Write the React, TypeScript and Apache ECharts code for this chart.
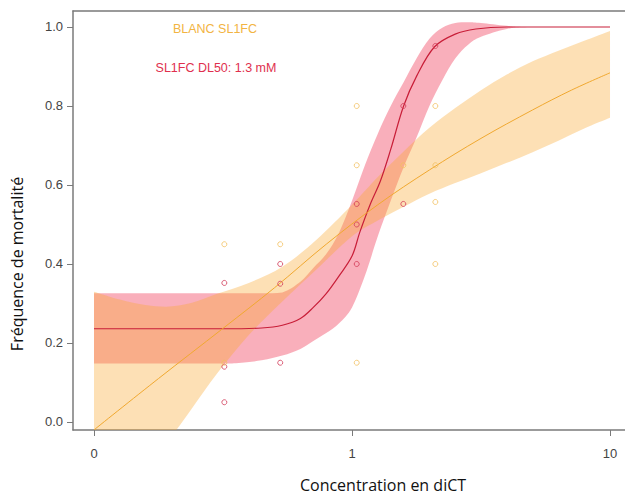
import React, { useEffect, useRef } from "react";
import * as echarts from "echarts";

// Axis ticks (x axis: log10 of concentration, the "0" dose drawn at 0.1)
const xTickPositions = [-1, 0, 1];
const xTickLabels = ["0", "1", "10"];
const yTickValues = [0, 0.2, 0.4, 0.6, 0.8, 1.0];

// Observed points (concentration, mortality)
const blancConc = [0.32, 0.32, 0.527, 1.043, 1.043, 1.043, 1.581, 2.104, 2.104, 2.104, 2.104];
const blancMort = [0.45, 0.15, 0.45, 0.8, 0.65, 0.15, 0.65, 0.8, 0.65, 0.557, 0.4];
const sl1fcConc = [0.32, 0.32, 0.32, 0.527, 0.527, 0.527, 1.043, 1.043, 1.043, 1.581, 1.581, 2.104];
const sl1fcMort = [0.352, 0.14, 0.05, 0.4, 0.35, 0.15, 0.552, 0.5, 0.4, 0.8, 0.552, 0.952];

// SL1FC fitted curve (log10 conc, mortality)
const sl1fcCurveLogX = [-1, -0.5, -0.35, -0.27, -0.2, -0.15, -0.1, -0.05, 0, 0.03, 0.07, 0.11, 0.15, 0.2, 0.25, 0.32, 0.4, 0.48, 0.6, 1];
const sl1fcCurveY = [0.236, 0.236, 0.238, 0.245, 0.262, 0.29, 0.325, 0.37, 0.42, 0.48, 0.55, 0.61, 0.69, 0.8, 0.875, 0.95, 0.982, 0.995, 1.0, 1.0];

// SL1FC confidence band
const sl1fcBandLogX = [-1, -0.6, -0.45, -0.35, -0.27, -0.2, -0.15, -0.1, -0.05, 0, 0.05, 0.1, 0.15, 0.2, 0.25, 0.3, 0.35, 0.4, 0.45, 0.5, 0.6, 0.7, 1];
const sl1fcBandUpper = [0.326, 0.326, 0.326, 0.326, 0.328, 0.355, 0.39, 0.425, 0.48, 0.56, 0.65, 0.73, 0.8, 0.86, 0.92, 0.97, 0.998, 1.01, 1.012, 1.01, 1.003, 1.0, 1.0];
const sl1fcBandLower = [0.148, 0.148, 0.149, 0.156, 0.168, 0.185, 0.205, 0.225, 0.25, 0.29, 0.37, 0.47, 0.56, 0.645, 0.72, 0.8, 0.865, 0.92, 0.955, 0.975, 0.995, 1.0, 1.0];

// BLANC fitted curve
const blancCurveLogX = [-1, -0.75, -0.5, -0.3, -0.1, 0.1, 0.3, 0.5, 0.7, 0.85, 1.0];
const blancCurveY = [-0.02, 0.11, 0.237, 0.34, 0.45, 0.55, 0.638, 0.718, 0.79, 0.84, 0.884];

// BLANC confidence band
const blancBandLogX = [-1, -0.9, -0.8, -0.72, -0.62, -0.52, -0.4, -0.27, -0.14, 0, 0.1, 0.2, 0.3, 0.4, 0.5, 0.6, 0.7, 0.8, 0.9, 1.0];
const blancBandUpper = [0.33, 0.31, 0.296, 0.292, 0.302, 0.325, 0.352, 0.393, 0.46, 0.55, 0.62, 0.685, 0.745, 0.795, 0.84, 0.88, 0.913, 0.94, 0.965, 0.99];
const blancBandLower = [-0.3, -0.21, -0.12, -0.055, 0.035, 0.125, 0.22, 0.305, 0.385, 0.47, 0.51, 0.545, 0.578, 0.605, 0.63, 0.656, 0.683, 0.712, 0.743, 0.77];

const X_MIN = -1.0814;
const X_MAX = 1.0581;
const Y_MIN = -0.0203;
const Y_MAX = 1.0405;

const AXIS_COLOR = "#7a7a7a";

// Catmull-Rom spline through projected pixel points, as SVG path commands
function splinePath(pts: number[][], start: string): string {
  let d = `${start}${pts[0][0].toFixed(2)},${pts[0][1].toFixed(2)}`;
  const n = pts.length;
  for (let i = 0; i < n - 1; i++) {
    const p0 = pts[Math.max(0, i - 1)];
    const p1 = pts[i];
    const p2 = pts[i + 1];
    const p3 = pts[Math.min(n - 1, i + 2)];
    const t = 1 / 6;
    const c1x = p1[0] + (p2[0] - p0[0]) * t;
    let c1y = p1[1] + (p2[1] - p0[1]) * t;
    const c2x = p2[0] - (p3[0] - p1[0]) * t;
    let c2y = p2[1] - (p3[1] - p1[1]) * t;
    const lo = Math.min(p1[1], p2[1]);
    const hi = Math.max(p1[1], p2[1]);
    c1y = Math.min(hi, Math.max(lo, c1y));
    c2y = Math.min(hi, Math.max(lo, c2y));
    d += ` C${c1x.toFixed(2)},${c1y.toFixed(2)} ${c2x.toFixed(2)},${c2y.toFixed(2)} ${p2[0].toFixed(2)},${p2[1].toFixed(2)}`;
  }
  return d;
}

function bandSeries(name: string, xs: number[], lower: number[], upper: number[], fill: string, z: number) {
  return {
    name,
    type: "custom",
    coordinateSystem: "cartesian2d",
    clip: true,
    silent: true,
    z,
    data: [[xs[0], upper[0]]],
    renderItem: (params: any, api: any) => {
      const up = xs.map((x, i) => api.coord([x, upper[i]]));
      const lo = xs.map((x, i) => api.coord([x, lower[i]])).reverse();
      const d = splinePath(up, "M") + " " + splinePath(lo, "L") + " Z";
      const cs = params.coordSys;
      return {
        type: "path",
        shape: { pathData: d },
        style: { fill, stroke: "none" },
        clipPath: { type: "rect", shape: { x: cs.x, y: cs.y, width: cs.width, height: cs.height } },
      };
    },
  };
}

export default function App() {
  const ref = useRef<HTMLDivElement>(null);
  useEffect(() => {
    if (!ref.current) return;
    const chart = echarts.init(ref.current, undefined, { renderer: "svg" });
    const option: any = {
      animation: false,
      backgroundColor: "#ffffff",
      grid: { left: 73, right: 0, top: 11, bottom: 65, containLabel: false },
      xAxis: [
        {
          type: "value",
          min: X_MIN,
          max: X_MAX,
          axisLine: { show: true, onZero: false, lineStyle: { color: AXIS_COLOR, width: 1.5 } },
          axisTick: { show: true, length: 6, customValues: xTickPositions, lineStyle: { color: AXIS_COLOR } },
          axisLabel: {
            show: true,
            customValues: xTickPositions,
            margin: 17,
            color: "#444",
            fontSize: 13,
            fontFamily: "Liberation Sans, Arial, sans-serif",
            formatter: (v: number) => {
              const i = xTickPositions.findIndex((p) => Math.abs(p - v) < 1e-6);
              return i >= 0 ? xTickLabels[i] : "";
            },
          },
          splitLine: { show: false },
        },
        {
          type: "value",
          position: "top",
          min: X_MIN,
          max: X_MAX,
          axisLine: { show: true, onZero: false, lineStyle: { color: AXIS_COLOR, width: 1.5 } },
          axisTick: { show: false },
          axisLabel: { show: false },
          splitLine: { show: false },
        },
      ],
      yAxis: {
        type: "value",
        min: Y_MIN,
        max: Y_MAX,
        axisLine: { show: true, onZero: false, lineStyle: { color: AXIS_COLOR, width: 1.5 } },
        axisTick: { show: true, length: 6, customValues: yTickValues, lineStyle: { color: AXIS_COLOR } },
        axisLabel: {
          show: true,
          customValues: yTickValues,
          margin: 10,
          color: "#444",
          fontSize: 13,
          fontFamily: "Liberation Sans, Arial, sans-serif",
          formatter: (v: number) => v.toFixed(1),
        },
        splitLine: { show: false },
      },
      series: [
        bandSeries("sl1fc-band", sl1fcBandLogX, sl1fcBandLower, sl1fcBandUpper, "rgba(240,55,85,0.40)", 1),
        bandSeries("blanc-band", blancBandLogX, blancBandLower, blancBandUpper, "rgba(250,170,50,0.36)", 2),
        {
          name: "SL1FC fit",
          type: "line",
          data: sl1fcCurveLogX.map((x, i) => [x, sl1fcCurveY[i]]),
          symbol: "none",
          smooth: 0.35,
          lineStyle: { color: "#c81e38", width: 1.2 },
          z: 3,
        },
        {
          name: "BLANC fit",
          type: "line",
          data: blancCurveLogX.map((x, i) => [x, blancCurveY[i]]),
          symbol: "none",
          smooth: 0.35,
          lineStyle: { color: "#f0a830", width: 1 },
          z: 3,
        },
        {
          name: "SL1FC",
          type: "scatter",
          data: sl1fcConc.map((c, i) => [Math.log10(c), sl1fcMort[i]]),
          symbol: "circle",
          symbolSize: 5,
          itemStyle: { color: "transparent", borderColor: "#d23a58", borderWidth: 1 },
          z: 4,
        },
        {
          name: "BLANC",
          type: "scatter",
          data: blancConc.map((c, i) => [Math.log10(c), blancMort[i]]),
          symbol: "circle",
          symbolSize: 5,
          itemStyle: { color: "transparent", borderColor: "#f2c060", borderWidth: 1 },
          z: 4,
        },
      ],
      graphic: [
        {
          type: "text",
          x: 215,
          y: 29,
          style: {
            text: "BLANC SL1FC",
            fill: "#f2b443",
            font: "12.5px 'Liberation Sans', Arial, sans-serif",
            textAlign: "center",
            textVerticalAlign: "middle",
          },
        },
        {
          type: "text",
          x: 216,
          y: 68,
          style: {
            text: "SL1FC DL50: 1.3 mM",
            fill: "#e0304e",
            font: "12.5px 'Liberation Sans', Arial, sans-serif",
            textAlign: "center",
            textVerticalAlign: "middle",
          },
        },
        {
          type: "text",
          x: 383,
          y: 485,
          style: {
            text: "Concentration en diCT",
            fill: "#111",
            font: "16px 'Open Sans', sans-serif",
            textAlign: "center",
            textVerticalAlign: "middle",
          },
        },
        {
          type: "text",
          x: 17,
          y: 264,
          rotation: Math.PI / 2,
          style: {
            text: "Fréquence de mortalité",
            fill: "#111",
            font: "16px 'Open Sans', sans-serif",
            textAlign: "center",
            textVerticalAlign: "middle",
          },
        },
      ],
    };
    chart.setOption(option);
    return () => chart.dispose();
  }, []);
  return (
    <div
      ref={ref}
      style={{ position: "absolute", left: 0, top: 0, width: 625, height: 495, background: "#fff" }}
    />
  );
}
